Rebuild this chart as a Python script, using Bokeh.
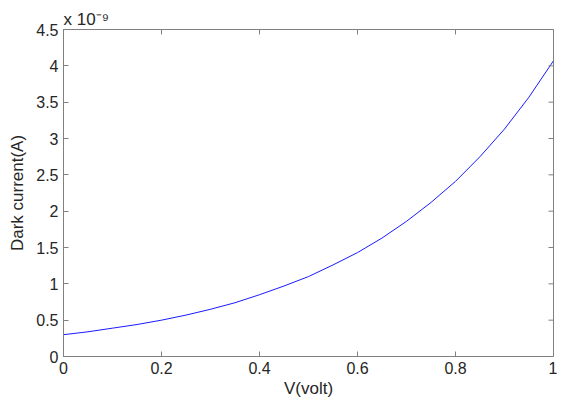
import math
from bokeh.plotting import figure
from bokeh.models import Range1d, FixedTicker, Title
from bokeh.embed import file_html
from bokeh.resources import INLINE

# Data (current in units of 1e-9 A)
voltage = [0.0, 0.05, 0.1, 0.15, 0.2, 0.25, 0.3, 0.35, 0.4, 0.45, 0.5,
           0.55, 0.6, 0.65, 0.7, 0.75, 0.8, 0.85, 0.9, 0.95, 1.0]
dark_current = [0.30, 0.34, 0.39, 0.44, 0.50, 0.57, 0.65, 0.74, 0.85, 0.97, 1.10,
                1.26, 1.43, 1.63, 1.86, 2.12, 2.41, 2.75, 3.13, 3.57, 4.07]

x_ticks = [0, 0.2, 0.4, 0.6, 0.8, 1]
x_tick_labels = ["0", "0.2", "0.4", "0.6", "0.8", "1"]
y_ticks = [0, 0.5, 1, 1.5, 2, 2.5, 3, 3.5, 4, 4.5]
y_tick_labels = ["0", "0.5", "1", "1.5", "2", "2.5", "3", "3.5", "4", "4.5"]
x_min, x_max = 0, 1
y_min, y_max = 0, 4.5
scale_text = "x 10\u207b\u2079"

FONT = "Liberation Sans"
AXC = "#808080"
TXT = "#262626"
FS = "16px"
FS_LABEL = "17px"

p = figure(width=557, height=400, output_backend="svg", toolbar_location=None,
           x_range=Range1d(x_min, x_max), y_range=Range1d(y_min, y_max),
           min_border_left=63, min_border_right=4, min_border_top=29, min_border_bottom=44,
           x_axis_label="V(volt)", y_axis_label="Dark current(A)")
p.background_fill_color = "white"
p.border_fill_color = "white"
p.outline_line_color = AXC
p.grid.visible = False

p.line(voltage, dark_current, line_color="#1a1aff", line_width=1)

# inward tick marks on the top and right edges of the box
p.scatter(x=[x_max] * len(y_ticks), y=y_ticks, marker="dash", size=10,
          line_color=AXC, line_width=1)
p.scatter(x=x_ticks, y=[y_max] * len(x_ticks), marker="dash", size=10, angle=math.pi / 2,
          line_color=AXC, line_width=1)

def style(ax):
    ax.axis_line_color = AXC
    ax.major_tick_line_color = AXC
    ax.minor_tick_line_color = None
    ax.major_tick_in = 5
    ax.major_tick_out = 0
    ax.major_label_text_font = FONT
    ax.major_label_text_font_size = FS
    ax.major_label_text_color = TXT
    ax.axis_label_text_font = FONT
    ax.axis_label_text_font_size = FS_LABEL
    ax.axis_label_text_font_style = "normal"
    ax.axis_label_text_color = TXT

xa = p.xaxis[0]
ya = p.yaxis[0]
xa.ticker = FixedTicker(ticks=x_ticks)
ya.ticker = FixedTicker(ticks=y_ticks)
xa.major_label_overrides = {float(t): l for t, l in zip(x_ticks, x_tick_labels)}
ya.major_label_overrides = {float(t): l for t, l in zip(y_ticks, y_tick_labels)}
style(xa)
style(ya)
xa.major_label_standoff = 5
xa.axis_label_standoff = 2
ya.major_label_standoff = 5
ya.axis_label_standoff = 6

p.title = Title(text=scale_text, align="left", offset=0, standoff=1,
                text_font=FONT, text_font_size="17px", text_font_style="normal",
                text_color=TXT)

open("out.html", "w").write(file_html(p, INLINE))
